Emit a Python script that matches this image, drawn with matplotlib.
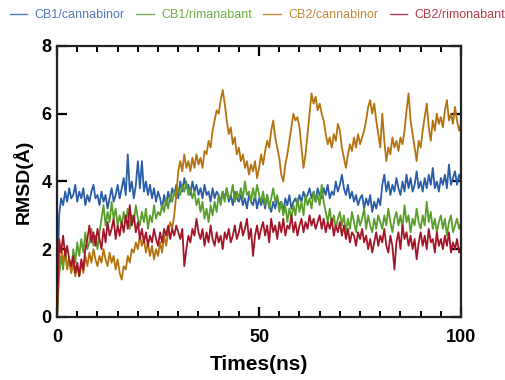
import numpy as np
import matplotlib
matplotlib.use("Agg")
import matplotlib.pyplot as plt
from matplotlib.ticker import MultipleLocator

plt.rcParams['font.family'] = ['Liberation Sans', 'DejaVu Sans']

# time axis in ns, one sample every 0.5 ns
times = np.arange(0, 100.5, 0.5)

cb1_cannabinor = [
    0.0, 3.0, 3.5, 3.3, 3.7, 3.4, 3.8, 3.5, 3.6, 3.9, 3.4,
    3.7, 3.5, 3.8, 3.3, 3.6, 3.4, 3.7, 3.9, 3.5, 3.6,
    3.3, 3.7, 3.4, 3.6, 3.2, 3.5, 3.8, 3.4, 3.6, 3.9,
    3.5, 3.8, 4.1, 3.6, 4.8, 3.7, 4.0, 3.5, 3.9, 4.6,
    3.8, 4.6, 3.7, 4.0, 3.6, 3.9, 3.5, 3.8, 3.4, 3.7,
    3.5, 3.2, 3.6, 3.3, 3.7, 3.4, 3.8, 3.6, 3.9, 3.5,
    4.0, 3.7, 4.1, 3.8, 3.9, 3.6, 4.0, 3.7, 3.9, 3.6,
    3.8, 3.5, 3.9, 3.6, 3.7, 3.4, 3.8, 3.5, 3.7, 3.6,
    3.4, 3.7, 3.5, 3.8, 3.4, 3.6, 3.3, 3.7, 3.5, 3.4,
    3.6, 3.3, 3.5, 3.2, 3.6, 3.4, 3.3, 3.6, 3.2, 3.5,
    3.3, 3.5, 3.2, 3.6, 3.3, 3.1, 3.4, 3.2, 3.5, 3.3,
    3.4, 3.1, 3.5, 3.3, 3.6, 3.2, 3.4, 3.5, 3.3, 3.6,
    3.4, 3.7, 3.5, 3.6, 3.8, 3.5, 3.7, 3.4, 3.8, 3.6,
    3.5, 3.8, 3.6, 3.9, 3.5, 3.7, 3.6, 4.0, 3.7, 3.9,
    4.2, 3.8, 3.6, 3.9, 3.5, 3.7, 3.4, 3.6, 3.3, 3.5,
    3.6, 3.2, 3.5, 3.3, 3.6, 3.1, 3.4, 3.2, 3.5, 3.3,
    3.9, 4.2, 3.7, 4.0, 3.6, 3.9, 3.7, 4.1, 3.8, 3.6,
    4.0, 3.7, 4.2, 3.8, 4.1, 3.7, 3.9, 4.3, 3.8, 4.0,
    3.7, 4.1, 3.8, 4.2, 3.9, 4.4, 3.8, 4.0, 3.7, 4.1,
    3.9, 4.2, 3.8, 4.5, 3.9, 4.1, 4.3, 3.9, 4.2, 4.0,
]

cb1_rimanabant = [
    0.0, 1.2, 1.8, 1.4, 2.0, 1.5, 1.7, 1.3, 2.0, 1.6, 2.2,
    1.8, 2.3, 1.9, 2.5, 2.0, 2.2, 2.6, 2.1, 2.4, 2.0,
    2.5, 2.9, 3.3, 2.7, 3.1, 2.8, 3.4, 2.9, 3.2, 2.7,
    3.0, 2.7, 3.1, 2.8, 3.2, 2.6, 3.0, 2.8, 3.3, 2.9,
    2.7, 3.1, 2.8, 3.2, 2.6, 3.0, 2.8, 3.3, 2.9, 3.1,
    3.0, 3.3, 3.1, 3.5, 3.2, 3.6, 3.4, 3.7, 3.5, 3.8,
    3.6, 3.9, 3.7, 4.0, 3.6, 3.8, 3.5, 3.7, 3.3, 3.5,
    3.1, 3.4, 2.9, 3.2, 2.8, 3.3, 3.0, 3.4, 3.1, 3.6,
    3.3, 3.7, 3.4, 3.8, 3.5, 3.6, 3.9, 3.4, 3.7, 3.5,
    3.8, 3.5, 4.0, 3.6, 3.7, 3.4, 3.8, 3.5, 3.9, 3.6,
    3.4, 3.7, 3.3, 3.6, 3.2, 3.5, 3.8, 3.4, 3.6, 3.1,
    3.4, 3.0, 3.3, 2.8, 3.2, 2.9, 3.3, 3.0, 3.5, 3.1,
    3.4, 3.0, 3.6, 3.3, 3.5, 3.2, 3.7, 3.4, 3.6, 3.3,
    3.9, 3.4, 3.1, 2.8, 3.2, 2.7, 3.0, 2.6, 2.9, 3.1,
    2.7, 3.0, 2.5, 2.9, 2.6, 3.1, 2.8, 2.5, 3.0, 2.7,
    2.9, 3.2, 2.6, 3.0, 2.7, 2.5, 2.9, 2.6, 3.0, 2.8,
    2.6, 3.0, 2.7, 3.2, 2.8, 2.5, 2.9, 3.1, 2.7, 3.0,
    2.6, 3.3, 2.8, 3.0, 2.5, 2.9, 2.7, 3.2, 2.8, 2.6,
    3.0, 2.7, 3.4, 2.8, 3.1, 2.6, 2.9, 2.5, 2.8, 3.0,
    2.6, 2.9, 2.4, 2.8, 3.0, 2.5, 2.7, 2.9, 2.6, 2.8,
]

cb2_cannabinor = [
    0.0, 1.8, 2.1, 1.6, 1.9, 1.4, 1.7, 1.3, 1.6, 1.2, 1.5,
    1.2, 1.6, 1.3, 1.8, 1.5, 1.9, 1.6, 2.0, 1.7, 1.5,
    1.8, 1.6, 2.0, 1.7, 1.5, 1.9, 1.6, 1.8, 1.4, 1.7,
    1.3, 1.1, 1.5, 1.4, 1.8, 1.6, 2.0, 1.9, 2.2, 2.0,
    2.4, 2.1, 2.3, 1.9, 2.2, 1.8, 2.1, 1.7, 2.0, 1.8,
    2.2, 1.9, 2.4, 2.1, 2.5, 2.8, 2.6, 3.0, 3.6, 4.3,
    4.6, 4.3, 4.8, 4.4, 4.6, 4.3, 4.7, 4.4, 4.8, 4.5,
    4.7, 4.4, 4.9, 4.8, 5.2, 5.0, 5.5, 5.8, 6.1, 6.0,
    6.4, 6.7, 6.3, 5.8, 5.4, 5.6, 5.1, 5.3, 4.8, 5.0,
    4.6, 4.8, 4.4, 4.6, 4.2, 4.5, 4.3, 4.6, 4.1, 4.4,
    4.8, 4.5, 4.9, 5.2, 5.0, 5.5, 5.8, 5.3, 5.0, 4.7,
    4.2, 4.0, 4.5, 4.8, 5.2, 5.6, 6.0, 5.8, 5.9, 5.6,
    5.0, 4.4, 4.8, 5.4, 6.0, 6.6, 6.3, 6.5, 6.1, 6.3,
    6.0, 5.8, 5.4, 5.1, 5.3, 5.0, 5.4, 5.2, 5.7, 5.5,
    5.0, 4.7, 4.4, 4.8, 5.1, 4.9, 5.3, 5.0, 5.4, 5.1,
    5.3, 5.5, 5.8, 6.2, 6.4, 6.0, 6.3, 5.8, 5.4, 5.0,
    6.0, 5.2, 4.6, 5.0, 4.8, 5.3, 5.0, 5.2, 4.9, 5.3,
    5.1, 5.5, 6.1, 6.6, 5.8, 5.4, 5.0, 4.6, 5.2, 5.0,
    5.5, 5.9, 6.3, 5.6, 5.2, 5.8, 5.5, 6.0, 5.7, 5.9,
    5.6, 6.1, 6.4, 5.8, 6.0, 5.7, 6.2, 5.8, 5.5, 5.7,
]

cb2_rimonabant = [
    0.0, 2.3, 1.9, 2.4, 1.8, 2.1, 1.7, 1.5, 1.8, 1.3, 1.6,
    1.2, 1.7, 1.4, 2.0, 2.3, 2.7, 2.2, 2.5, 2.1, 2.6,
    2.3, 2.0, 2.6, 2.2, 2.8, 2.4, 2.6, 2.9, 2.3, 2.7,
    2.4, 2.8, 2.5, 3.0, 2.6, 3.3, 2.7, 3.0, 2.5, 2.8,
    2.3, 2.6, 2.2, 2.5, 2.1, 2.4, 2.2, 2.6, 2.3, 2.1,
    2.5, 2.2, 2.6, 2.4, 2.7, 2.3, 2.6, 2.4, 2.7, 2.5,
    2.3, 2.6, 1.5, 2.0, 2.4, 2.2, 2.6, 2.4, 2.9, 2.5,
    2.3, 2.6, 2.1, 2.5, 2.2, 2.7, 2.3, 2.1, 2.5, 2.2,
    2.4, 2.0, 2.5, 2.3, 2.6, 2.2, 2.4, 2.7, 2.3, 2.5,
    2.8, 2.4, 2.6, 2.9, 2.3, 2.6, 1.8, 2.4, 2.7, 2.3,
    2.6, 2.8, 2.4, 2.7, 2.2, 2.9, 2.5, 2.7, 2.3, 2.8,
    2.5, 2.9, 2.4, 2.7, 2.6, 3.0, 2.5, 2.8, 2.4, 2.7,
    2.9, 2.5, 2.8, 2.6, 3.0, 2.7, 2.9, 2.6, 2.8, 3.0,
    2.6, 2.9, 2.5, 2.8, 2.6, 2.9, 2.4, 2.7, 2.5, 2.8,
    2.4, 2.7, 2.3, 2.6, 2.2, 2.5, 2.4, 2.1, 2.5, 2.3,
    2.6, 2.2, 2.4, 2.0, 2.3, 1.9, 2.2, 2.5, 2.1, 2.4,
    2.2, 2.6, 2.1, 1.9, 2.4, 2.1, 1.4, 2.2, 2.5, 2.0,
    2.7, 2.3, 2.5, 2.1, 2.4, 2.0, 2.3, 1.7, 2.2, 2.5,
    2.1, 2.4, 2.0, 2.6, 2.2, 2.3, 1.9, 2.5, 2.1, 2.3,
    2.0, 2.4, 2.1, 2.5, 1.9, 2.2, 2.0, 2.3, 1.9, 2.1,
]

labels = ['CB1/cannabinor', 'CB1/rimanabant', 'CB2/cannabinor', 'CB2/rimonabant']
colors = ['#2b5ca8', '#5a9e2c', '#b5730f', '#a3162a']
legend_text_colors = ['#5577bb', '#6eae45', '#c08a3a', '#b53a4a']

fig = plt.figure(figsize=(5.05, 3.8), dpi=100)
ax = fig.add_axes([0.113, 0.166, 0.8, 0.713])

for series, lab, col in zip([cb1_cannabinor, cb1_rimanabant, cb2_cannabinor, cb2_rimonabant], labels, colors):
    ax.plot(times, series, color=col, lw=1.3, label=lab)

ax.set_xlim(0, 100)
ax.set_ylim(0, 8)
ax.set_xticks([0, 50, 100])
ax.xaxis.set_minor_locator(MultipleLocator(5))
ax.set_yticks([0, 2, 4, 6, 8])

for sp in ax.spines.values():
    sp.set_linewidth(1.6)
    sp.set_color('#222222')

ax.tick_params(which='major', direction='in', length=7, width=1.6, top=True, right=True,
               labelsize=13)
ax.tick_params(axis='x', which='major', pad=9)
ax.tick_params(axis='y', which='major', pad=4)
ax.tick_params(which='minor', direction='in', length=4, width=1.4, top=True, bottom=True)
for t in ax.get_xticklabels() + ax.get_yticklabels():
    t.set_fontweight('bold')

ax.set_xlabel('Times(ns)', fontsize=15, fontweight='bold', labelpad=6)
ax.set_ylabel('RMSD(Å)', fontsize=14, fontweight='bold', labelpad=6)

leg = fig.legend(loc='upper center', bbox_to_anchor=(0.51, 1.005), ncol=4, frameon=False,
                 fontsize=9, handlelength=1.4, handletextpad=0.6, columnspacing=0.9)
for txt, col in zip(leg.get_texts(), legend_text_colors):
    txt.set_color(col)
for line in leg.get_lines():
    line.set_linewidth(1.0)
    line.set_alpha(0.8)

fig.savefig('out.png', dpi=100)
